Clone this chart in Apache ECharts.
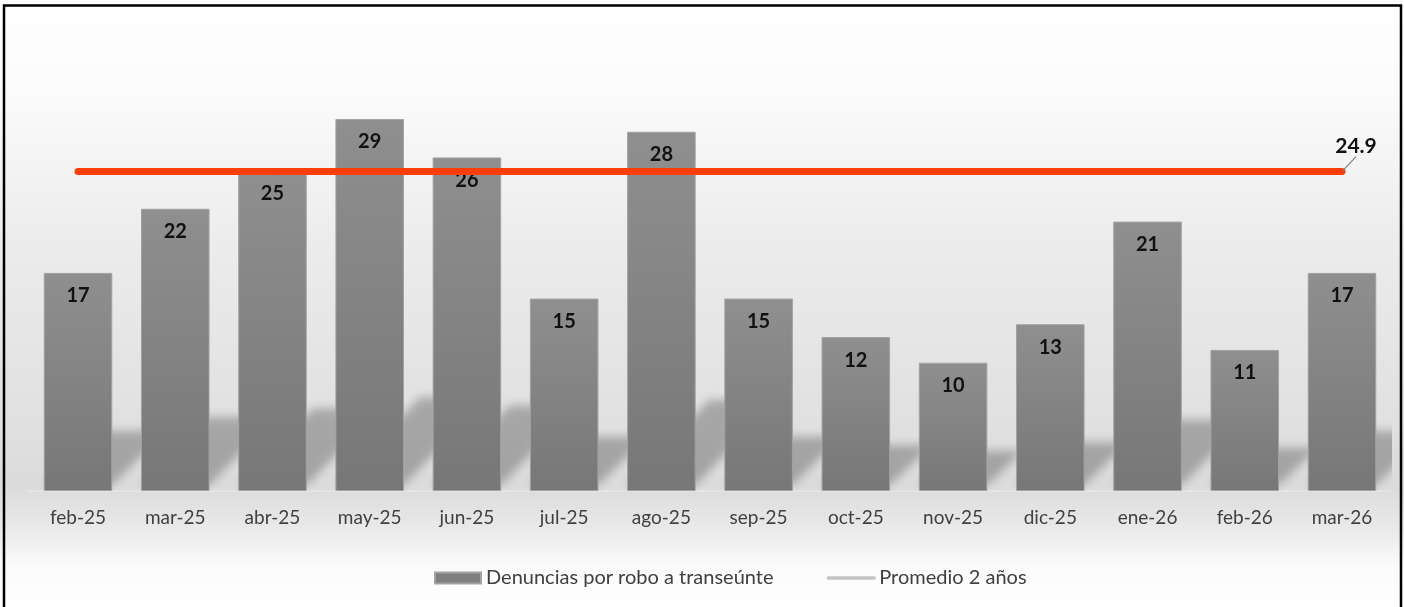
<!DOCTYPE html>
<html>
<head>
<meta charset="utf-8">
<script src="https://cdn.jsdelivr.net/npm/echarts@6/dist/echarts.min.js"></script>
<style>
  html, body { margin: 0; padding: 0; background: #ffffff; }
  #chart { width: 1404px; height: 607px; }
</style>
</head>
<body>
<div id="chart"></div>
<script>
// Monthly complaints and the two-year average
const months = ['feb-25', 'mar-25', 'abr-25', 'may-25', 'jun-25', 'jul-25', 'ago-25',
                'sep-25', 'oct-25', 'nov-25', 'dic-25', 'ene-26', 'feb-26', 'mar-26'];
const denuncias = [17, 22, 25, 29, 26, 15, 28, 15, 12, 10, 13, 21, 11, 17];
const promedio = [24.9, 24.9, 24.9, 24.9, 24.9, 24.9, 24.9, 24.9, 24.9, 24.9, 24.9, 24.9, 24.9, 24.9];
const nombreBarras = 'Denuncias por robo a transeúnte';
const nombreLinea = 'Promedio 2 años';

const FONT = 'Lato, "Open Sans", sans-serif';
const BAR_RATIO = 0.705;
const SHIFT = 3000; // shadow shapes are drawn off-canvas, only their blurred shadow lands on the plot
const last = promedio.length - 1;

const chart = echarts.init(document.getElementById('chart'), null, { renderer: 'canvas' });

chart.setOption({
  animation: false,
  backgroundColor: new echarts.graphic.LinearGradient(0, 0, 0, 1, [
    { offset: 0.00, color: '#ffffff' },
    { offset: 0.15, color: '#fbfbfb' },
    { offset: 0.40, color: '#ececec' },
    { offset: 0.70, color: '#e0e0e0' },
    { offset: 0.80, color: '#dbdbdb' },
    { offset: 0.87, color: '#e9e9e9' },
    { offset: 0.93, color: '#fafafa' },
    { offset: 1.00, color: '#ffffff' }
  ]),
  graphic: [
    {
      type: 'rect',
      silent: true,
      z: 100,
      shape: { x: 4, y: 5.5, width: 1397, height: 640 },
      style: { fill: 'none', stroke: '#000000', lineWidth: 2.5 }
    }
  ],
  grid: { left: 29.4, right: 13.4, top: 42, bottom: 116 },
  legend: {
    left: 429,
    top: 563,
    itemWidth: 46,
    itemHeight: 11,
    itemGap: 53,
    textStyle: { fontFamily: FONT, fontSize: 20, color: '#404040' },
    data: [
      { name: nombreBarras, icon: 'rect', itemStyle: { color: '#7f7f7f' } },
      { name: nombreLinea, itemStyle: { opacity: 0 }, lineStyle: { color: '#c4c4c4', width: 3.5 } }
    ]
  },
  xAxis: {
    type: 'category',
    data: months,
    axisLine: { show: true, lineStyle: { color: '#e4e4e4', width: 2 } },
    axisTick: { show: false },
    axisLabel: { margin: 17, fontFamily: FONT, fontSize: 19, color: '#404040' }
  },
  yAxis: {
    type: 'value',
    min: 0,
    max: 35,
    show: false,
    splitLine: { show: false }
  },
  series: [
    {
      // soft perspective floor shadow cast by each bar
      type: 'custom',
      name: 'sombra',
      silent: true,
      clip: true,
      z: 1,
      data: denuncias.map((v, i) => [i, v]),
      renderItem(params, api) {
        const top = api.coord([api.value(0), api.value(1)]);
        const base = api.coord([api.value(0), 0]);
        const w = api.size([1, 0])[0] * BAR_RATIO;
        const x0 = base[0] - w / 2 - SHIFT;
        const x1 = base[0] + w / 2 - SHIFT;
        const h = base[1] - top[1];
        const H = 0.22 * h + 12;
        const dx = 0.9 * H;
        const yb = base[1] - 6;
        return {
          type: 'polygon',
          shape: {
            points: [[x0, yb], [x1, yb], [x1 + dx, base[1] - H], [x0 + dx, base[1] - H]]
          },
          style: {
            fill: '#000000',
            shadowBlur: 10,
            shadowColor: 'rgba(0,0,0,0.26)',
            shadowOffsetX: SHIFT,
            shadowOffsetY: 0
          }
        };
      }
    },
    {
      name: nombreBarras,
      type: 'bar',
      z: 2,
      barWidth: (BAR_RATIO * 100) + '%',
      data: denuncias,
      itemStyle: {
        color: new echarts.graphic.LinearGradient(0, 0, 0, 1, [
          { offset: 0, color: '#8f8f8f' },
          { offset: 1, color: '#777777' }
        ]),
        borderColor: '#a2a2a2',
        borderWidth: 1
      },
      label: {
        show: true,
        position: 'insideTop',
        distance: 13,
        fontFamily: FONT,
        fontWeight: 'bold',
        fontSize: 20,
        color: '#111111'
      }
    },
    {
      name: nombreLinea,
      type: 'line',
      z: 5,
      symbol: 'circle',
      symbolSize: 2,
      showSymbol: true,
      itemStyle: { color: '#f93e0b' },
      lineStyle: { color: '#f93e0b', width: 7, cap: 'round' },
      data: promedio.map((v, i) => i === last
        ? { value: v, label: { show: true }, labelLine: { show: true } }
        : v),
      label: {
        show: false,
        position: 'top',
        distance: 5,
        padding: [0, 0, 9, 0],
        fontFamily: FONT,
        fontWeight: 'bold',
        fontSize: 21,
        color: '#111111'
      },
      labelLine: {
        show: false,
        length2: 0,
        lineStyle: { color: '#7f7f7f', width: 1.2 }
      },
      labelLayout: { dx: 14, dy: 0 }
    }
  ]
});
</script>
</body>
</html>
